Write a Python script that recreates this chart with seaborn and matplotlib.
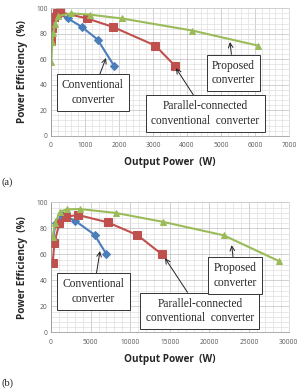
import pandas as pd
import matplotlib
matplotlib.use("Agg")
import matplotlib.pyplot as plt
from matplotlib.ticker import MultipleLocator
import seaborn as sns

# data (output power W, efficiency %)
# panel (a)
conv_a_x = [10, 40, 100, 200, 500, 900, 1370, 1850]
conv_a_y = [84, 92, 95, 96, 92, 85.5, 75.5, 55]
par_a_x = [10, 30, 80, 170, 270, 1060, 1810, 3070, 3640]
par_a_y = [74, 84.5, 93, 96, 97, 92, 85.5, 70.7, 55]
prop_a_x = [10, 40, 70, 120, 220, 590, 1150, 2090, 4160, 6090]
prop_a_y = [58, 73.5, 81, 88, 94, 96, 95, 92, 82.5, 70.7]

# panel (b)
conv_b_x = [250, 600, 1400, 3000, 5500, 7000]
conv_b_y = [72, 84, 90, 86, 75, 60]
par_b_x = [210, 420, 1050, 1890, 3450, 7150, 10900, 13950]
par_b_y = [53, 68.5, 83.8, 89, 90.2, 84.6, 74.8, 60.2]
prop_b_x = [210, 500, 1140, 1980, 3660, 8200, 14100, 21800, 28830]
prop_b_y = [73.5, 83.8, 92.8, 94.6, 94.8, 91.8, 85, 74.6, 54.6]

labels = ["Conventional\nconverter", "Parallel-connected\nconventional  converter", "Proposed\nconverter"]

sns.set_style("white")
plt.rcParams['font.family'] = ['Open Sans', 'DejaVu Sans']

fig = plt.figure(figsize=(3.02, 3.88), dpi=100)

blue, red, green = "#4a7ebb", "#c0504d", "#9bbb59"


def draw_panel(ax, series, xmax, xmajor, xminor, notes):
    for (x, y), col, mk, ms in zip(series, [blue, red, green], ["D", "s", "^"], [3.8, 5.5, 5]):
        sns.lineplot(x=x, y=y, ax=ax, sort=False, color=col, marker=mk, markersize=ms,
                     markeredgecolor=col, linewidth=1.5, estimator=None)
    ax.set_xlim(0, xmax)
    ax.set_ylim(0, 100)
    ax.xaxis.set_major_locator(MultipleLocator(xmajor))
    ax.xaxis.set_minor_locator(MultipleLocator(xminor))
    ax.yaxis.set_major_locator(MultipleLocator(20))
    ax.yaxis.set_minor_locator(MultipleLocator(4))
    ax.grid(which='major', color='#bfbfbf', lw=0.5)
    ax.grid(which='minor', color='#d9d9d9', lw=0.4)
    ax.set_axisbelow(True)
    ax.tick_params(labelsize=4.8, colors='#595959', length=2, width=0.5, pad=2.5)
    ax.tick_params(axis='y', length=0)
    for s in ax.spines.values():
        s.set_color('#d0d0d0')
        s.set_linewidth(0.5)
    ax.spines['left'].set_color('#8c8c8c')
    ax.spines['bottom'].set_color('#8c8c8c')
    ax.set_xlabel("Output Power  (W)", fontsize=7.2, fontweight='bold', labelpad=6)
    ax.set_ylabel("Power Efficiency  (%)", fontsize=7.2, fontweight='bold', labelpad=6)
    for text, (tx, ty), (px, py) in zip(labels, [n[0] for n in notes], [n[1] for n in notes]):
        ax.annotate(text, xy=(px, py), xycoords='data', xytext=(tx, ty), textcoords='axes fraction',
                    ha='center', va='center', family='Liberation Serif', fontsize=8.3,
                    linespacing=1.25,
                    bbox=dict(boxstyle='square,pad=0.45', fc='white', ec='#333333', lw=0.7),
                    arrowprops=dict(arrowstyle='->', color='#222222', lw=0.7,
                                    shrinkA=0, shrinkB=0))


ax_a = fig.add_axes([51 / 302, 1 - 135.7 / 388, 238 / 302, 127.4 / 388])
draw_panel(ax_a, [(conv_a_x, conv_a_y), (par_a_x, par_a_y), (prop_a_x, prop_a_y)],
           7000, 1000, 200,
           [((0.176, 0.339), (1618, 61)), ((0.649, 0.174), (3676, 53)), ((0.767, 0.492), (5265, 73.5))])

ax_b = fig.add_axes([51 / 302, 1 - 332.3 / 388, 237.7 / 302, 130 / 388])
draw_panel(ax_b, [(conv_b_x, conv_b_y), (par_b_x, par_b_y), (prop_b_x, prop_b_y)],
           30000, 5000, 1000,
           [((0.179, 0.314), (6184, 62.5)), ((0.626, 0.164), (14390, 57)), ((0.775, 0.437), (22800, 67))])

fig.text(0.005, 1 - 182 / 388, "(a)", family='Liberation Serif', fontsize=7.5, va='center')
fig.text(0.005, 1 - 383 / 388, "(b)", family='Liberation Serif', fontsize=7.5, va='center')

fig.savefig("out.png", dpi=100)
